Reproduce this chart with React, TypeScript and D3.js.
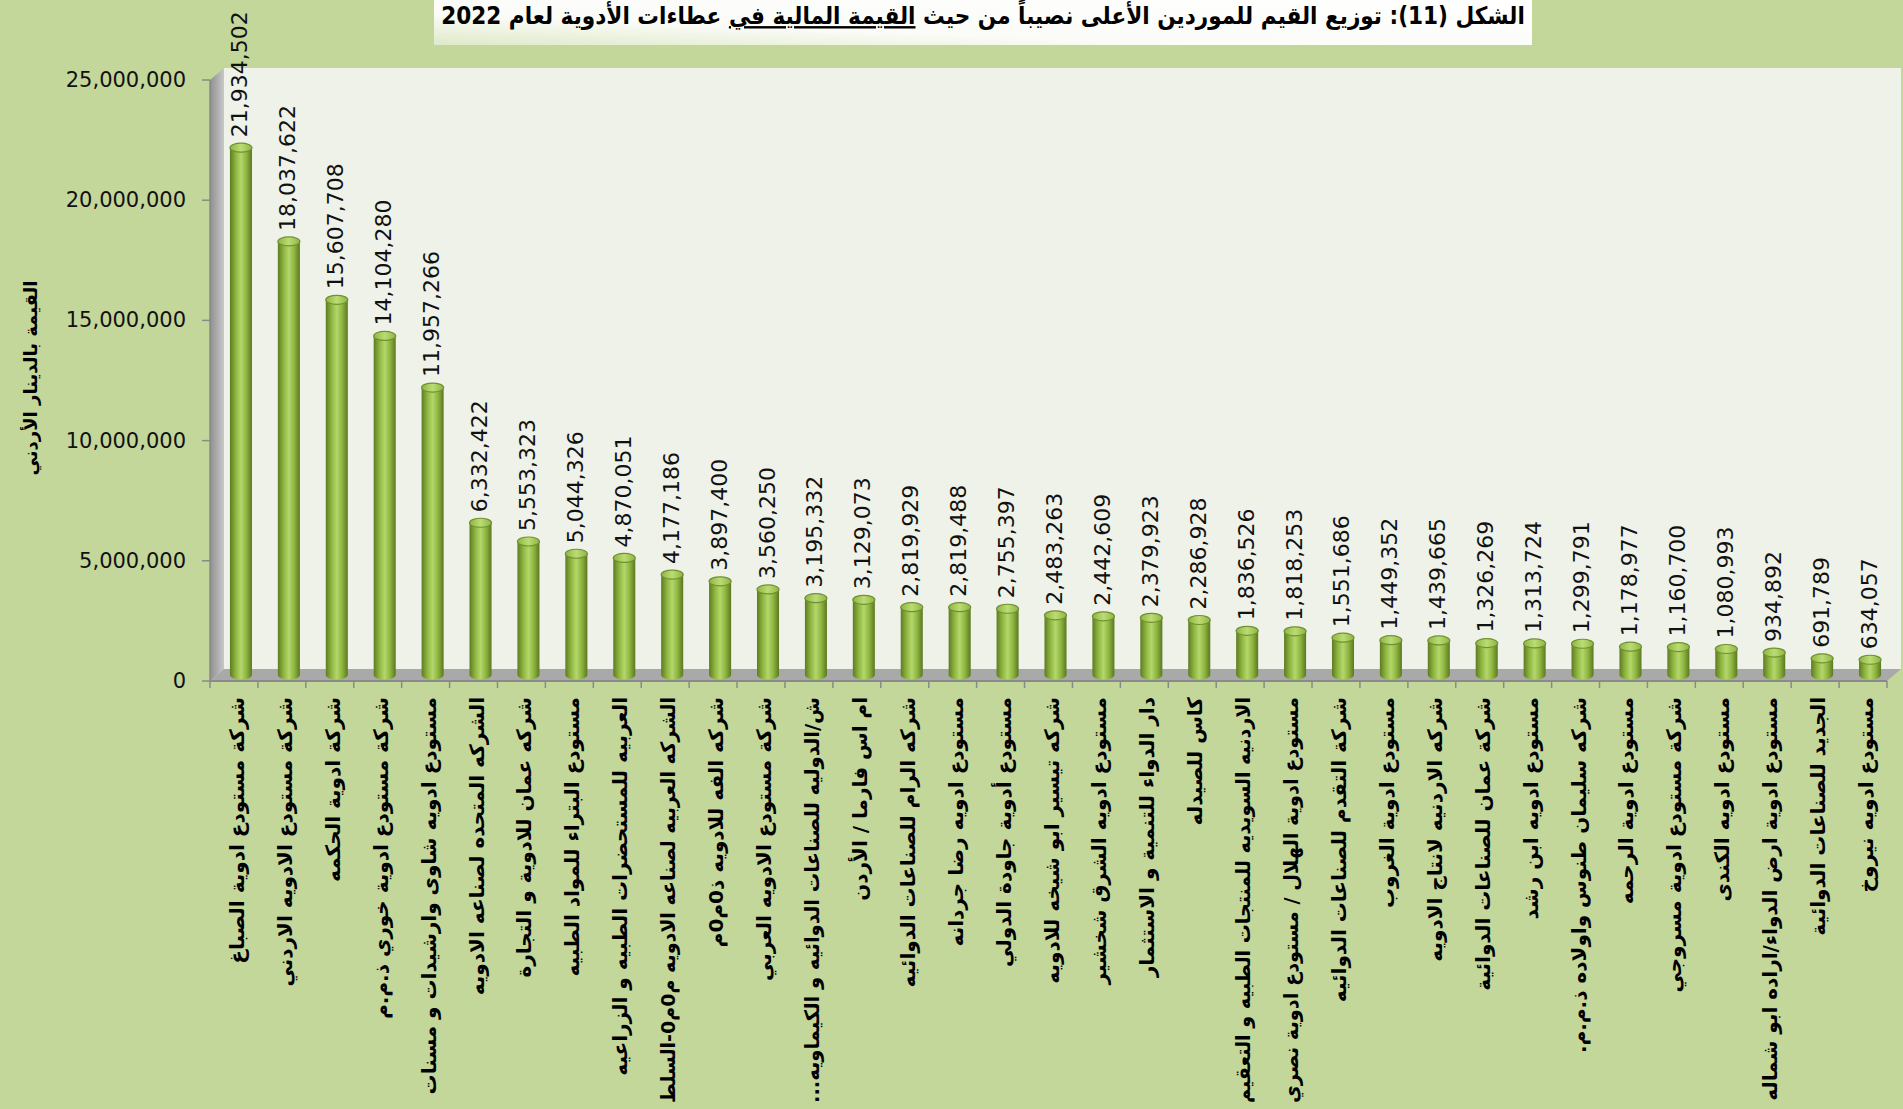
import React, { useLayoutEffect, useRef } from "react";
import * as d3 from "d3";

// supplier names, in the order they appear from left to right
const suppliers = [
  "شركة مستودع ادوية الصباغ",
  "شركة مستودع الادويه الاردني",
  "شركة ادوية الحكمه",
  "شركة مستودع ادوية خوري ذ.م.م",
  "مستودع ادويه شاوى وارشيدات و مسنات",
  "الشركه المتحده لصناعه الادويه",
  "شركه عمان للادوية و التجارة",
  "مستودع البتراء للمواد الطبيه",
  "العربيه للمستحضرات الطبيه و الزراعيه",
  "الشركه العربيه لصناعه الادويه م0م0-السلط",
  "شركه الفه للادويه ذ0م0م",
  "شركة مستودع الادويه العربي",
  "ش/الدوليه للصناعات الدوائيه و الكيماويه...",
  "ام اس فارما / الأردن",
  "شركه الرام للصناعات الدوائيه",
  "مستودع ادويه رضا جردانه",
  "مستودع أدوية جاودة الدولي",
  "شركه تيسير ابو شيخه للادويه",
  "مستودع ادويه الشرق  شخشير",
  "دار الدواء للتنمية و الاستثمار",
  "كاس للصيدله",
  "الاردنيه السويديه للمنتجات الطبيه و التعقيم",
  "مستودع ادوية الهلال / مستودع ادوية نصري",
  "شركة التقدم للصناعات الدوائيه",
  "مستودع ادوية الغروب",
  "شركه الاردنيه لانتاج الادويه",
  "شركة عمان للصناعات الدوائية",
  "مستودع ادويه ابن رشد",
  "شركه سليمان طنوس  واولاده  ذ.م.م.",
  "مستودع ادوية الرحمه",
  "شركة مستودع ادوية مسروجي",
  "مستودع ادويه الكندى",
  "مستودع ادوية ارض الدواء/اراده ابو شماله",
  "الجديد للصناعات الدوائية",
  "مستودع ادويه نيروخ",
];

// value in Jordanian dinars
const values = [
  21934502, 18037622, 15607708, 14104280, 11957266, 6332422, 5553323, 5044326,
  4870051, 4177186, 3897400, 3560250, 3195332, 3129073, 2819929, 2819488,
  2755397, 2483263, 2442609, 2379923, 2286928, 1836526, 1818253, 1551686,
  1449352, 1439665, 1326269, 1313724, 1299791, 1178977, 1160700, 1080993,
  934892, 691789, 634057,
];

const yTicks = [0, 5000000, 10000000, 15000000, 20000000, 25000000];

const titleBefore = "الشكل (11): توزيع القيم للموردين الأعلى نصيباً من حيث ";
const titleUnderlined = "القيمة المالية في";
const titleAfter = " عطاءات الأدوية لعام 2022";
const yAxisTitle = "القيمة بالدينار الأردني";

const W = 1903;
const H = 1109;
const left = 210;
const right = 1887;
const top = 80;
const bottom = 681;
const depthX = 14;
const depthY = 12;
const labelTop = 697;
const maxLabelLen = H - labelTop - 6;

const App = () => {
  const labelRefs = useRef<(SVGTextElement | null)[]>([]);

  // squeeze the few long names so they stay inside the picture
  useLayoutEffect(() => {
    labelRefs.current.forEach((el) => {
      if (!el) return;
      if (el.getComputedTextLength() > maxLabelLen) {
        el.setAttribute("textLength", String(maxLabelLen));
        el.setAttribute("lengthAdjust", "spacingAndGlyphs");
      }
    });
  }, []);

  const x = d3
    .scaleBand<number>()
    .domain(values.map((_, i) => i))
    .range([left, right])
    .padding(0);

  const y = d3.scaleLinear().domain([0, 25000000]).range([bottom, top]);
  const fmt = d3.format(",");

  const bw = x.bandwidth() * 0.46;
  const ry = 4.5;
  // bars stand half way back on the floor
  const shiftX = depthX / 2;
  const shiftY = depthY / 2;

  return (
    <div style={{ position: "fixed", left: 0, top: 0 }}>
      <svg width={W} height={H} style={{ display: "block" }}>
        <defs>
          <linearGradient id="cyl" x1="0" x2="1" y1="0" y2="0">
            <stop offset="0%" stopColor="#5d7b22" />
            <stop offset="25%" stopColor="#8cb33e" />
            <stop offset="50%" stopColor="#b4d76b" />
            <stop offset="75%" stopColor="#8db43f" />
            <stop offset="100%" stopColor="#5a7820" />
          </linearGradient>
          <linearGradient id="capGrad" x1="0" x2="1" y1="0" y2="0">
            <stop offset="0%" stopColor="#90b444" />
            <stop offset="50%" stopColor="#bbdc74" />
            <stop offset="100%" stopColor="#90b444" />
          </linearGradient>
          <linearGradient id="titleBox" x1="0" x2="1" y1="1" y2="0">
            <stop offset="0%" stopColor="#dfe9c8" />
            <stop offset="35%" stopColor="#fbfcf8" />
            <stop offset="100%" stopColor="#ffffff" />
          </linearGradient>
          <linearGradient id="sideWall" x1="0" x2="1" y1="0" y2="0">
            <stop offset="0%" stopColor="#8f8f8f" />
            <stop offset="100%" stopColor="#c8c8c8" />
          </linearGradient>
        </defs>

        <rect width={W} height={H} fill="#c4d79b" />

        {/* title */}
        <rect x={434} y={0} width={1098} height={45} fill="url(#titleBox)" />
        <text
          transform="translate(983, 24) scale(0.9, 1)"
          textAnchor="middle"
          direction="rtl"
          fontFamily="DejaVu Sans"
          fontWeight="bold"
          fontSize={24}
          fill="#000"
        >
          <tspan>{titleBefore}</tspan>
          <tspan style={{ textDecoration: "underline" }}>{titleUnderlined}</tspan>
          <tspan>{titleAfter}</tspan>
        </text>

        {/* 3D walls */}
        <polygon
          points={`${left + depthX},${top - depthY} ${right + depthX},${top - depthY} ${right + depthX},${bottom - depthY} ${left + depthX},${bottom - depthY}`}
          fill="#eef2e9"
        />
        <polygon
          points={`${left},${top} ${left + depthX},${top - depthY} ${left + depthX},${bottom - depthY} ${left},${bottom}`}
          fill="url(#sideWall)"
        />
        <polygon
          points={`${left},${bottom} ${left + depthX},${bottom - depthY} ${right + depthX},${bottom - depthY} ${right},${bottom}`}
          fill="#a9a9a9"
        />
        <line x1={left} x2={right} y1={bottom} y2={bottom} stroke="#8a8a8a" strokeWidth={2} />
        <line x1={left} x2={left} y1={top} y2={bottom} stroke="#8a8a8a" strokeWidth={1.5} />

        {/* y axis */}
        {yTicks.map((t) => (
          <g key={t}>
            <line x1={left - 8} x2={left} y1={y(t)} y2={y(t)} stroke="#8a8a8a" strokeWidth={1.5} />
            <text
              x={left - 24}
              y={y(t)}
              textAnchor="end"
              dominantBaseline="central"
              fontFamily="DejaVu Sans"
              fontSize={21}
              fill="#111"
            >
              {fmt(t)}
            </text>
          </g>
        ))}
        <text
          transform={`translate(30, 378) rotate(-90)`}
          textAnchor="middle"
          dominantBaseline="central"
          direction="rtl"
          fontFamily="DejaVu Sans"
          fontWeight="bold"
          fontSize={18}
          fill="#000"
        >
          {yAxisTitle}
        </text>

        {/* x axis ticks */}
        {d3.range(values.length + 1).map((i) => {
          const xx = left + i * x.step();
          return (
            <line key={i} x1={xx} x2={xx} y1={bottom} y2={bottom + 7} stroke="#8a8a8a" strokeWidth={1.5} />
          );
        })}

        {/* cylinders */}
        {values.map((v, i) => {
          const cx = (x(i) as number) + x.bandwidth() / 2 + shiftX;
          const yb = y(0) - shiftY;
          const yt = y(v) - shiftY;
          const rx = bw / 2;
          return (
            <g key={i}>
              <path
                d={`M${cx - rx},${yt} L${cx - rx},${yb} A${rx},${ry} 0 0 0 ${cx + rx},${yb} L${cx + rx},${yt} Z`}
                fill="url(#cyl)"
              />
              <ellipse cx={cx} cy={yt} rx={rx} ry={ry} fill="url(#capGrad)" stroke="#6f9130" strokeWidth={1.2} />
              <text
                transform={`translate(${cx - 1}, ${yt - ry - 6}) rotate(-90)`}
                textAnchor="start"
                dominantBaseline="central"
                fontFamily="DejaVu Sans"
                fontSize={22}
                fill="#111"
              >
                {fmt(v)}
              </text>
            </g>
          );
        })}

        {/* category labels */}
        {suppliers.map((s, i) => {
          const cx = (x(i) as number) + x.bandwidth() / 2 + 3;
          return (
            <text
              key={i}
              ref={(el) => {
                labelRefs.current[i] = el;
              }}
              transform={`translate(${cx}, ${labelTop}) rotate(-90)`}
              textAnchor="start"
              direction="rtl"
              dominantBaseline="central"
              fontFamily="DejaVu Sans"
              fontWeight="bold"
              fontSize={20}
              fill="#000"
            >
              {s}
            </text>
          );
        })}
      </svg>
    </div>
  );
};

export default App;
